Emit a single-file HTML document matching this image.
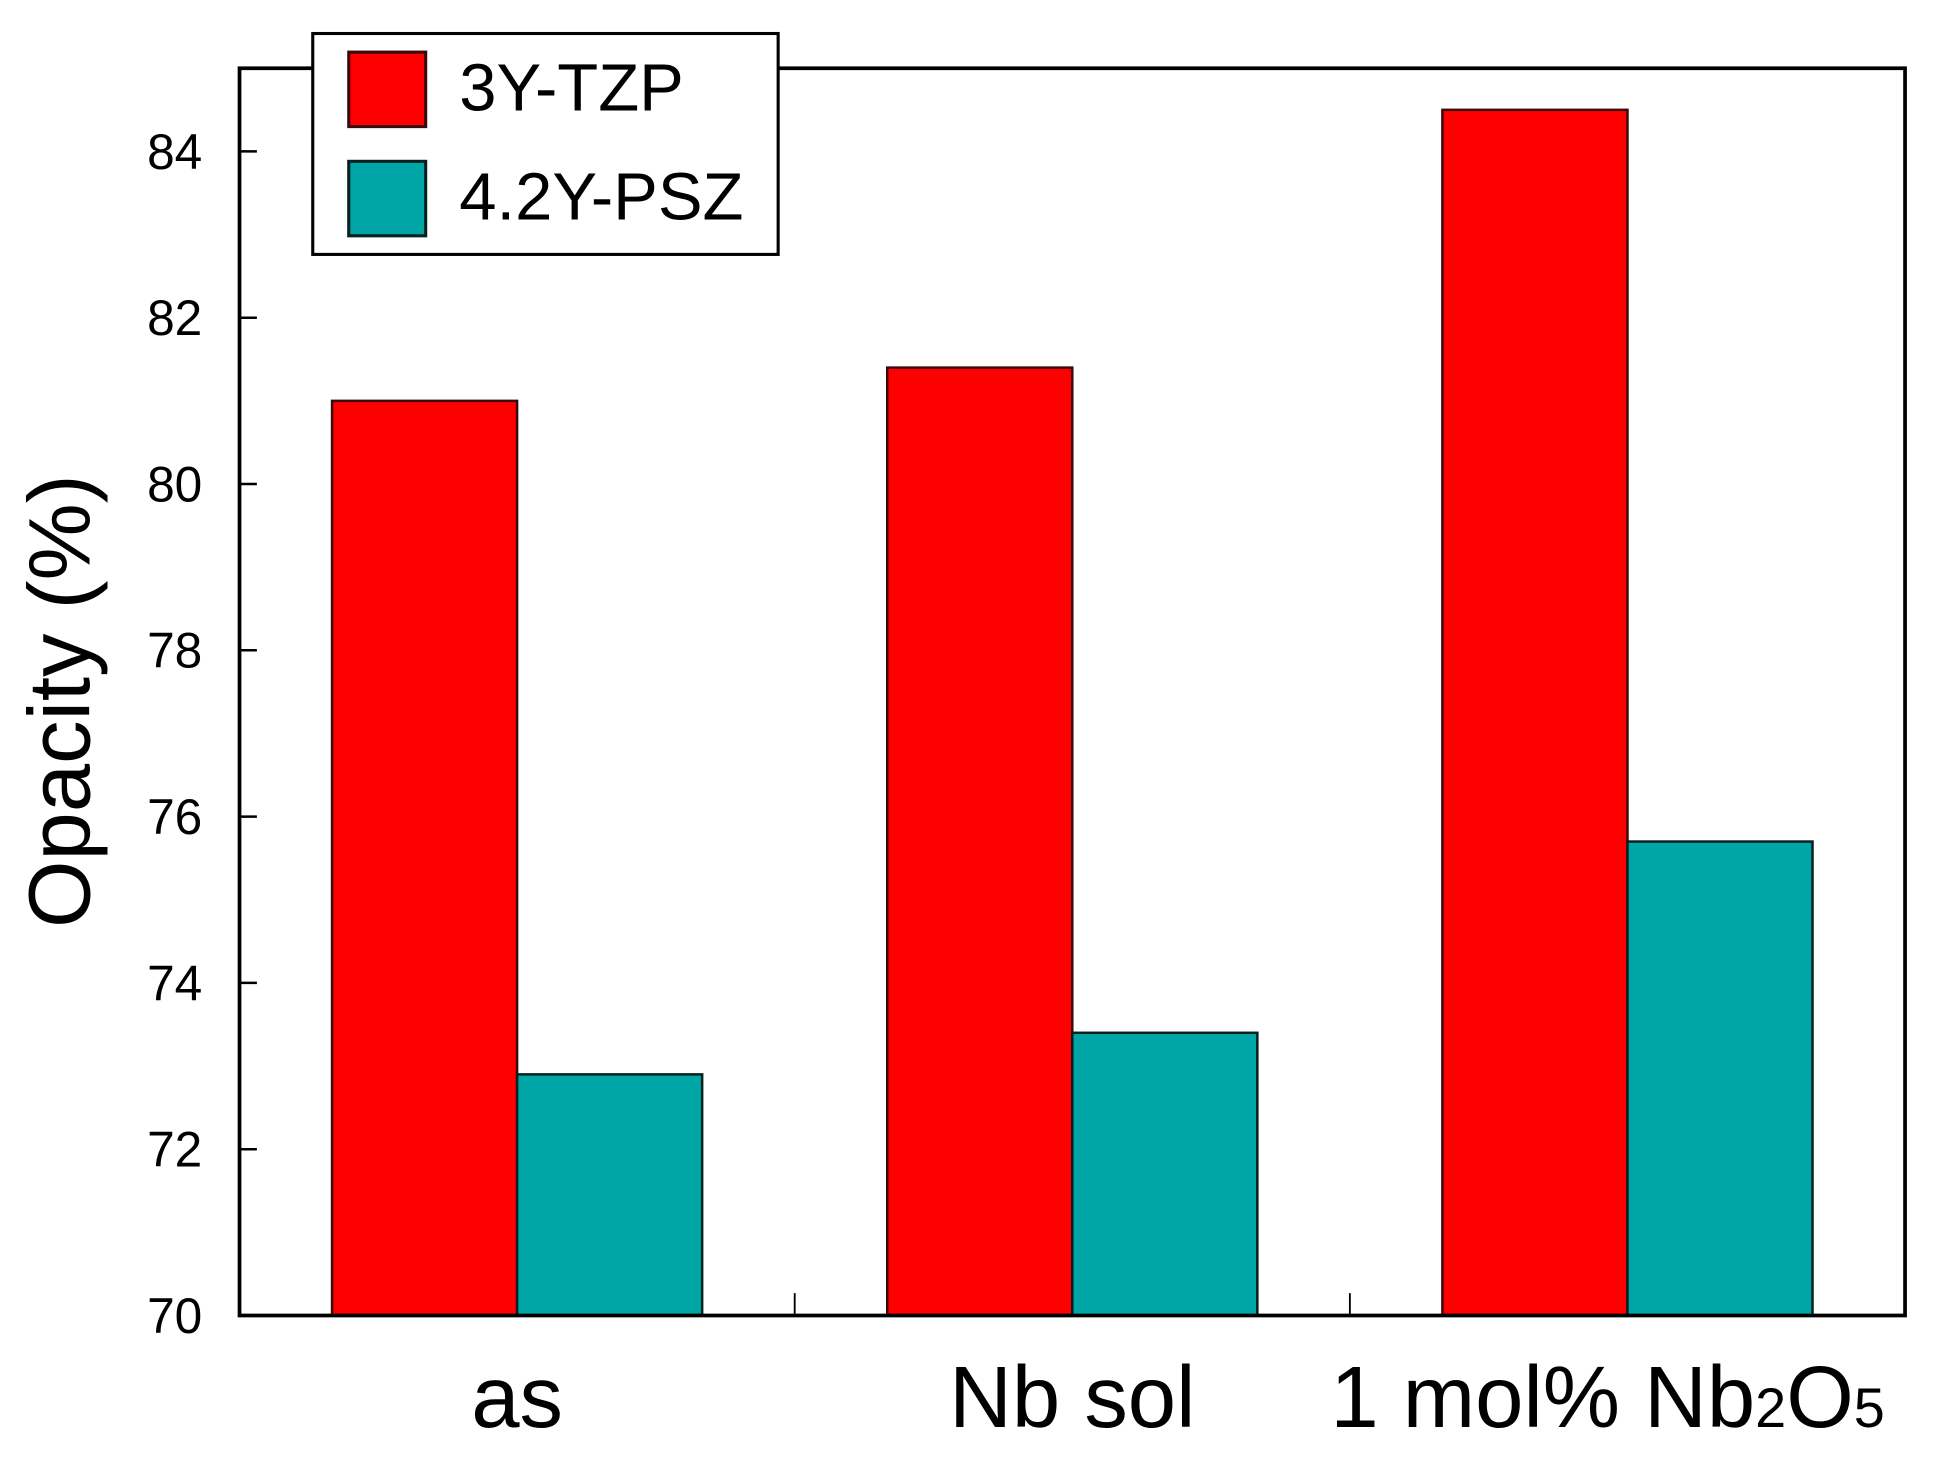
<!DOCTYPE html>
<html><head><meta charset="utf-8"><style>
html,body{margin:0;padding:0;background:#fff;}
svg{display:block;}
text{font-family:"Liberation Sans",sans-serif;fill:#000;}
</style></head><body>
<svg id="chart" width="1946" height="1471" viewBox="0 0 1568 1185.3" preserveAspectRatio="none" xmlns="http://www.w3.org/2000/svg">
<g id="plot"></g>
<rect x="193" y="55" width="1342" height="1005" fill="none" stroke="#000" stroke-width="3"/>
<text transform="translate(72,565) rotate(-90)" text-anchor="middle" font-size="70">Opacity (%)</text>
<g>
<rect x="252" y="27" width="375" height="178" fill="#fff" stroke="#000" stroke-width="2.5"/>
<rect x="281" y="42" width="62" height="60" fill="#ff0000" stroke="#3a0a0a" stroke-width="2.5"/>
<text x="370" y="89" font-size="54">3Y-TZP</text>
<rect x="281" y="130" width="62" height="60" fill="#00a6a6" stroke="#062020" stroke-width="2.5"/>
<text x="370" y="177" font-size="54">4.2Y-PSZ</text>
</g>
</svg>
<script>
const categories = ["as", "Nb sol", "1 mol% Nb2O5"];
const seriesNames = ["3Y-TZP", "4.2Y-PSZ"];
const tzpValues = [81.0, 81.4, 84.5];
const pszValues = [72.9, 73.4, 75.7];
const yTicks = [70, 72, 74, 76, 78, 80, 82, 84];
const yMin = 70, yMax = 85;
const L = 193, R = 1535, T = 55, B = 1060;
const NS = "http://www.w3.org/2000/svg";
const plot = document.getElementById('plot');
const svg = document.getElementById('chart');
function y(v){ return B - (v - yMin) / (yMax - yMin) * (B - T); }
const catW = (R - L) / categories.length;
function xc(i){ return L + catW * (i + 0.5); }
const barW = catW / 3;
function mk(tag, attrs, parent){ const e = document.createElementNS(NS, tag); for (const k in attrs) e.setAttribute(k, attrs[k]); (parent||plot).appendChild(e); return e; }
yTicks.forEach(v => {
  const t = mk('line', {x1:L, x2:L+14, y1:y(v), y2:y(v), stroke:'#000', 'stroke-width':2});
  
  
  const lb = mk('text', {x:L-30, y:y(v)+14, 'text-anchor':'end', 'font-size':40});
  
  
  lb.textContent = v;
});
for (let i = 1; i < categories.length; i++) {
  const x = L + catW * i;
  const t = mk('line', {x1:x, x2:x, y1:B, y2:B-18, stroke:'#000', 'stroke-width':1.5});
  
  
}
const series = [tzpValues, pszValues];
const fills = ['#ff0000', '#00a6a6'];
const strokes = ['#3a0a0a', '#062020'];
series.forEach((vals, s) => {
  vals.forEach((v, i) => {
    const x = xc(i) + (s === 0 ? -barW : 0);
    const r = mk('rect', {x:x, y:y(v), width:barW, height:B - y(v), fill:fills[s], stroke:strokes[s], 'stroke-width':2});
    
    
  });
});
categories.forEach((c, i) => {
  const t = mk('text', {x:xc(i) - (i === 2 ? 16 : 0), y:1150, 'text-anchor':'middle', 'font-size':70}, svg);
  
  
  const m = c.match(/^(.*Nb)2O5$/);
  if (m) {
    t.appendChild(document.createTextNode(m[1]));
    const s1 = document.createElementNS(NS, 'tspan'); s1.setAttribute('font-size', '45'); s1.textContent = '2'; t.appendChild(s1);
    t.appendChild(document.createTextNode('O'));
    const s2 = document.createElementNS(NS, 'tspan'); s2.setAttribute('font-size', '45'); s2.textContent = '5'; t.appendChild(s2);
  } else t.textContent = c;
});
</script>
</body></html>
